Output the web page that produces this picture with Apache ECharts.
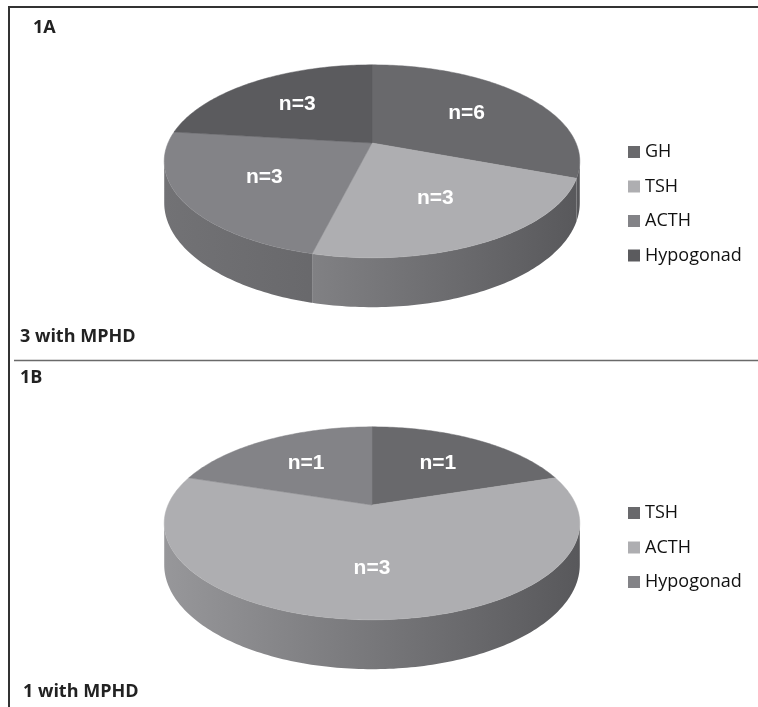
<!DOCTYPE html>
<html>
<head>
<meta charset="utf-8">
<script src="https://cdn.jsdelivr.net/npm/echarts@6/dist/echarts.min.js"></script>
<style>
html, body { margin: 0; padding: 0; background: #fff; }
#main { width: 758px; height: 707px; }
</style>
</head>
<body>
<div id="main"></div>
<script>
// panel 1A
var namesA = ['GH', 'TSH', 'ACTH', 'Hypogonad'];
var countsA = [6, 3, 3, 3];
var slicesA = [4, 3, 3, 3]; // slice sizes as they are drawn in the figure
// panel 1B
var namesB = ['TSH', 'ACTH', 'Hypogonad'];
var countsB = [1, 3, 1];
var slicesB = [1, 3, 1];

var greys = ['#69696c', '#aeaeb1', '#838387', '#5b5b5e'];

// fake 3d pie: perspective disc
var RX = 204, RY = 93, K = 0.19, DEPTH = 40;
var SIL = Math.acos(-K) * 180 / Math.PI;

function proj(c, deg, r, drop) {
	var t = deg * Math.PI / 180;
	var X = r * Math.sin(t), Z = -r * Math.cos(t);
	var w = 1 - K * Z;
	return [c.cx + RX * X / w, c.cy + (RY * Z + drop) / w];
}

function shade(hex, f) {
	var n = parseInt(hex.slice(1), 16);
	var r = Math.round(((n >> 16) & 255) * f);
	var g = Math.round(((n >> 8) & 255) * f);
	var b = Math.round((n & 255) * f);
	return 'rgb(' + r + ',' + g + ',' + b + ')';
}

function makeRender(c, counts) {
	return function (params, api) {
		var i = params.dataIndex;
		var total = 0, before = 0;
		for (var j = 0; j < params.dataInsideLength; j++) {
			var v = api.value(0, j);
			total += v;
			if (j < i) before += v;
		}
		var a0 = before / total * 360;
		var a1 = (before + api.value(0)) / total * 360;
		var col = api.visual('color');
		var kids = [];

		// side wall, only the front part shows
		var s0 = Math.max(a0, SIL), s1 = Math.min(a1, 360 - SIL);
		if (s1 > s0) {
			var side = [], a;
			for (a = s0; a < s1; a += 1) side.push(proj(c, a, 1, 0));
			side.push(proj(c, s1, 1, 0));
			for (a = s1; a > s0; a -= 1) side.push(proj(c, a, 1, DEPTH));
			side.push(proj(c, s0, 1, DEPTH));
			kids.push({
				type: 'polygon',
				shape: { points: side },
				style: {
					fill: {
						type: 'linear', x: c.cx - 208, y: 0, x2: c.cx + 208, y2: 0, global: true,
						colorStops: [
							{ offset: 0, color: shade(col, 0.87) },
							{ offset: 1, color: '#58585b' }
						]
					}
				}
			});
		}

		var top = [proj(c, 0, 0, 0)];
		for (var b = a0; b < a1; b += 1) top.push(proj(c, b, 1, 0));
		top.push(proj(c, a1, 1, 0));
		kids.push({
			type: 'polygon',
			shape: { points: top },
			style: { fill: col, stroke: col, lineWidth: 0.5 }
		});

		var p = proj(c, (a0 + a1) / 2, 0.6, 0);
		kids.push({
			type: 'text',
			x: p[0], y: p[1],
			style: {
				text: 'n=' + counts[i],
				fill: '#fff',
				font: 'bold 21px "Liberation Sans", Arial',
				align: 'center',
				verticalAlign: 'middle'
			}
		});
		return { type: 'group', children: kids };
	};
}

function pieSeries(names, slices, counts, colors, c) {
	return {
		type: 'custom',
		coordinateSystem: 'none',
		silent: true,
		animation: false,
		renderItem: makeRender(c, counts),
		data: slices.map(function (v, i) {
			return { name: names[i], value: v, itemStyle: { color: colors[i] } };
		})
	};
}

function legendItems(names, colors, x, y0, gap) {
	var out = [];
	names.forEach(function (n, i) {
		var y = y0 + i * gap;
		out.push({ type: 'rect', shape: { x: x, y: y - 6, width: 12, height: 12 }, style: { fill: colors[i] } });
		out.push({
			type: 'text', x: x + 17, y: y,
			style: { text: n, fill: '#111', font: '18px "Open Sans"', verticalAlign: 'middle' }
		});
	});
	return out;
}

function label(txt, x, y) {
	return {
		type: 'text', x: x, y: y,
		style: { text: txt, fill: '#222', font: 'bold 18px "Open Sans"', verticalAlign: 'middle' }
	};
}

var colorsA = greys.slice(0, 4);
var colorsB = greys.slice(0, 3);

var chart = echarts.init(document.getElementById('main'));
var option = {
	animation: false,
	graphic: [
		{ type: 'line', shape: { x1: 9, y1: 7, x2: 758, y2: 7 }, style: { stroke: '#333', lineWidth: 2 } },
		{ type: 'line', shape: { x1: 9, y1: 6, x2: 9, y2: 707 }, style: { stroke: '#333', lineWidth: 2 } },
		{ type: 'line', shape: { x1: 14, y1: 360.5, x2: 758, y2: 360.5 }, style: { stroke: '#6a6a6a', lineWidth: 1.5 } },
		label('1A', 33, 28),
		label('3 with MPHD', 20, 337),
		label('1B', 20, 378),
		label('1 with MPHD', 23, 692)
	].concat(legendItems(namesA, colorsA, 628, 152, 34.5))
	 .concat(legendItems(namesB, colorsB, 628, 513, 34.5)),
	series: [
		pieSeries(namesA, slicesA, countsA, colorsA, { cx: 372, cy: 143 }),
		pieSeries(namesB, slicesB, countsB, colorsB, { cx: 372, cy: 505 })
	]
};
chart.setOption(option);
</script>
</body>
</html>
